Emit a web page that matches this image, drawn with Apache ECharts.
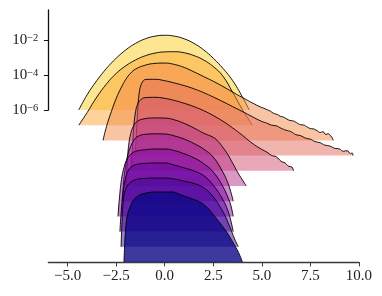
<!DOCTYPE html>
<html><head><meta charset="utf-8">
<script src="https://cdn.jsdelivr.net/npm/echarts@6/dist/echarts.min.js"></script>
<style>html,body{margin:0;padding:0;background:#fff}#c{width:382px;height:296px}</style>
</head><body><div id="c"></div>
<script>
// tick positions
const xTicks = [-5, -2.5, 0, 2.5, 5, 7.5, 10];
const yTicks = [-6, -4, -2]; // log10 exponents on the top ridge's axis

// ridge curves: x values and log10(density) values (baseline at 1e-6), top ridge first
const r1x = [-4.43, -4.0, -3.5, -3.0, -2.5, -2.0, -1.5, -1.0, -0.5, 0, 0.5, 1.0, 1.5, 2.0, 2.5, 3.0, 3.5, 4.0, 4.35];
const r1y = [-6, -5.13, -4.32, -3.62, -3.04, -2.56, -2.19, -1.93, -1.78, -1.73, -1.78, -1.93, -2.19, -2.56, -3.04, -3.62, -4.32, -5.25, -6];
const r2x = [-4.43, -4.0, -3.5, -3.0, -2.5, -2.0, -1.5, -1.0, -0.5, 0, 0.5, 1.0, 1.5, 2.0, 2.5, 3.0, 3.5, 4.0, 4.51];
const r2y = [-6, -5.28, -4.39, -3.64, -3.04, -2.60, -2.27, -2.03, -1.88, -1.81, -1.80, -1.86, -2.02, -2.27, -2.65, -3.2, -4.12, -5.1, -6];
const r3x = [-3.18, -3.0, -2.75, -2.5, -2.25, -2.0, -1.75, -1.5, -1.0, -0.5, 0, 0.5, 1.0, 1.5, 2.0, 2.5, 3.0, 3.5, 4.0, 4.5, 4.93, 5.1, 5.3, 5.45, 5.6, 5.8, 5.95, 6.1, 6.3, 6.45, 6.6, 6.8, 6.99, 7.15, 7.35, 7.5, 7.65, 7.85, 8.02, 8.15, 8.3, 8.42, 8.55, 8.64, 8.68];
const r3y = [-6, -5.2, -4.35, -3.6, -3.0, -2.5, -2.15, -1.92, -1.70, -1.60, -1.58, -1.66, -1.83, -2.08, -2.35, -2.62, -2.92, -3.24, -3.55, -3.85, -4.09, -4.16, -4.26, -4.33, -4.45, -4.52, -4.62, -4.66, -4.78, -4.86, -4.88, -4.99, -5.10, -5.12, -5.24, -5.32, -5.34, -5.44, -5.55, -5.50, -5.66, -5.62, -5.74, -5.88, -6];
const r4x = [-1.53, -1.45, -1.38, -1.3, -1.2, -1.1, -1.0, -0.5, 0, 0.5, 1.0, 1.5, 2.0, 2.5, 3.0, 3.5, 4.0, 4.5, 5.0, 5.25, 5.5, 5.75, 6.0, 6.25, 6.5, 6.75, 7.0, 7.25, 7.5, 7.75, 8.0, 8.25, 8.5, 8.75, 9.0, 9.2, 9.4, 9.57, 9.66, 9.7];
const r4y = [-6, -4.6, -3.2, -2.3, -1.9, -1.72, -1.65, -1.64, -1.72, -1.85, -2.0, -2.18, -2.40, -2.65, -2.92, -3.2, -3.48, -3.77, -4.05, -4.14, -4.26, -4.30, -4.44, -4.55, -4.63, -4.80, -4.86, -5.0, -5.06, -5.2, -5.26, -5.40, -5.45, -5.58, -5.62, -5.75, -5.72, -5.88, -5.85, -6];
const r5x = [-1.74, -1.66, -1.58, -1.5, -1.4, -1.25, -1.0, -0.5, 0, 0.5, 1.0, 1.5, 2.0, 2.5, 3.0, 3.5, 4.0, 4.5, 5.0, 5.25, 5.5, 5.75, 6.0, 6.2, 6.4, 6.55, 6.63];
const r5y = [-6, -4.6, -3.3, -2.6, -2.2, -1.95, -1.82, -1.80, -1.86, -1.98, -2.14, -2.33, -2.56, -2.84, -3.17, -3.55, -3.97, -4.42, -4.78, -4.92, -5.12, -5.20, -5.46, -5.55, -5.75, -5.78, -6];
const r6x = [-2.0, -1.93, -1.85, -1.75, -1.6, -1.4, -1.1, -0.5, 0, 0.5, 1.0, 1.5, 2.0, 2.5, 2.75, 3.0, 3.25, 3.5, 3.75, 4.0, 4.2];
const r6y = [-6, -4.6, -3.6, -3.0, -2.55, -2.3, -2.17, -2.11, -2.12, -2.22, -2.42, -2.68, -2.98, -3.22, -3.45, -3.80, -4.2, -4.7, -5.2, -5.65, -6];
const r7x = [-2.2, -2.12, -2.02, -1.9, -1.75, -1.55, -1.3, -1.0, -0.5, 0, 0.5, 1.0, 1.5, 2.0, 2.5, 3.0, 3.25, 3.4, 3.53];
const r7y = [-6, -4.9, -4.0, -3.35, -2.85, -2.45, -2.25, -2.18, -2.15, -2.16, -2.27, -2.45, -2.70, -3.02, -3.48, -4.35, -4.95, -5.45, -6];
const r8x = [-2.41, -2.33, -2.23, -2.1, -1.95, -1.75, -1.5, -1.0, -0.5, 0, 0.5, 1.0, 1.5, 2.0, 2.5, 3.0, 3.25, 3.4, 3.53];
const r8y = [-6, -4.9, -3.9, -3.2, -2.75, -2.45, -2.28, -2.19, -2.15, -2.15, -2.24, -2.42, -2.65, -2.98, -3.46, -4.3, -4.9, -5.35, -6];
const r9x = [-2.31, -2.24, -2.15, -2.05, -1.9, -1.7, -1.4, -1.0, -0.5, 0, 0.5, 1.0, 1.5, 2.0, 2.5, 3.0, 3.25, 3.4, 3.53];
const r9y = [-6, -4.8, -3.8, -3.1, -2.55, -2.28, -2.15, -2.10, -2.08, -2.08, -2.2, -2.36, -2.53, -2.8, -3.35, -4.18, -4.8, -5.35, -6];
const r10x = [-2.25, -2.21, -2.15, -2.07, -1.95, -1.75, -1.45, -1.0, -0.5, 0, 0.5, 1.0, 1.5, 2.0, 2.5, 3.0, 3.35, 3.6, 3.79];
const r10y = [-6, -4.8, -3.5, -2.9, -2.55, -2.3, -2.15, -2.09, -2.07, -2.07, -2.13, -2.25, -2.38, -2.62, -3.15, -4.0, -4.85, -5.55, -6];
const r11x = [-2.1, -2.06, -2.0, -1.92, -1.8, -1.6, -1.3, -1.0, -0.5, 0, 0.4, 0.8, 1.3, 1.8, 2.2, 2.5, 2.9, 3.2, 3.5, 3.8, 4.0];
const r11y = [-6, -4.9, -3.9, -3.3, -2.9, -2.45, -2.18, -2.07, -2.0, -2.0, -2.0, -2.15, -2.35, -2.57, -2.9, -3.3, -3.85, -4.3, -4.85, -5.45, -6];

const ridgesX = [r1x, r2x, r3x, r4x, r5x, r6x, r7x, r8x, r9x, r10x, r11x];
const ridgesY = [r1y, r2y, r3y, r4y, r5y, r6y, r7y, r8y, r9y, r10y, r11y];

// styles (plasma colormap samples, top to bottom)
const colors = ['#fcce25', '#fca835', '#f4894a', '#e66c5c', '#d3516f', '#b83289', '#9c179e', '#7e03a8', '#5c01a6', '#3b049a', '#0d0887'];
const alphas = [0.5, 0.5, 0.5, 0.5, 0.5, 0.5, 0.5, 0.5, 0.5, 0.5, 0.8];

// layout
const gridLeft = 48.3, gridTop = 10, plotW = 310.5, plotH = 252;
const decadePx = 17.5, spinePx = 100, ridgeGapPx = 15.2;
const base = -6;
const yMax = base + spinePx / decadePx;
const yMin = base - (plotH - spinePx) / decadePx;
const off = ridgeGapPx / decadePx;

const FONT = 'Liberation Serif';
const series = ridgesX.map((xs, i) => ({
  type: 'line',
  xAxisIndex: 0, yAxisIndex: 0,
  z: 2 + i,
  data: xs.map((x, k) => [x, ridgesY[i][k] - i * off]),
  symbol: 'none',
  smooth: 0.45,
  lineStyle: { color: '#000', width: 0.9 },
  areaStyle: { color: colors[i], opacity: alphas[i], origin: base - i * off },
  silent: true,
  animation: false
}));

const chart = echarts.init(document.getElementById('c'), null, { renderer: 'canvas' });
chart.setOption({
  animation: false,
  grid: [
    { left: gridLeft, top: gridTop, width: plotW, height: plotH },
    { left: gridLeft, top: gridTop, width: plotW, height: spinePx }
  ],
  xAxis: [
    {
      type: 'value', gridIndex: 0, min: -6, max: 10,
      splitLine: { show: false },
      axisLine: { onZero: false, lineStyle: { color: '#3a3a3a', width: 1.3 } },
      axisTick: { customValues: xTicks, length: 4.4, lineStyle: { color: '#3a3a3a', width: 1 } },
      axisLabel: {
        customValues: xTicks, margin: 7, color: '#222', fontFamily: FONT, fontSize: 15,
        formatter: v => v.toFixed(1).replace('-', '\u2212')
      }
    },
    { type: 'value', gridIndex: 1, min: -6, max: 10, show: false }
  ],
  yAxis: [
    { type: 'value', gridIndex: 0, min: yMin, max: yMax, show: false },
    {
      type: 'value', gridIndex: 1, min: base, max: yMax,
      splitLine: { show: false },
      axisLine: { onZero: false, lineStyle: { color: '#111', width: 1.3 } },
      axisTick: { customValues: yTicks, length: 4.4, lineStyle: { color: '#111', width: 1 } },
      axisLabel: {
        customValues: yTicks, margin: 10, color: '#222',
        formatter: v => '{b|10}{s|\u2212' + Math.abs(v) + '}',
        rich: {
          b: { fontFamily: FONT, fontSize: 15, lineHeight: 15, padding: [5, 0, 0, 0], verticalAlign: 'bottom' },
          s: { fontFamily: FONT, fontSize: 10.5, lineHeight: 10, verticalAlign: 'top' }
        }
      }
    }
  ],
  series: series
});
</script></body></html>
